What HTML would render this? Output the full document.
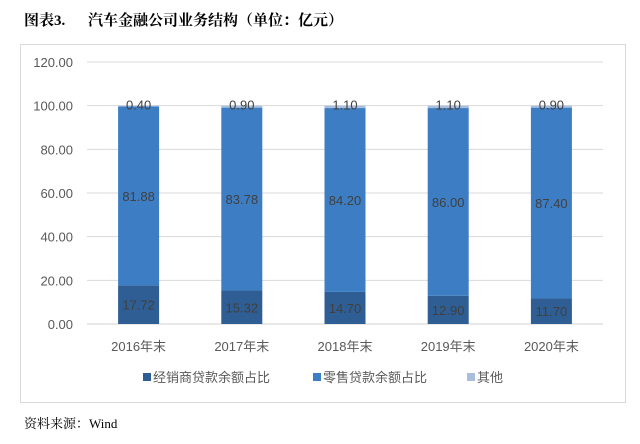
<!DOCTYPE html>
<html><head><meta charset="utf-8">
<style>
body{margin:0;background:#fff;width:640px;height:439px;overflow:hidden;font-family:"Liberation Sans","Noto Sans CJK SC",sans-serif;}
</style></head>
<body>
<svg width="640" height="439" xmlns="http://www.w3.org/2000/svg">
<text x="24" y="25" font-size="15" font-weight="bold" fill="#000" font-family="Liberation Serif,Noto Serif CJK SC,serif">图表3.</text>
<text x="88" y="25" font-size="15" font-weight="bold" fill="#000" font-family="Noto Serif CJK SC,serif">汽车金融公司业务结构（单位：亿元）</text>
<rect x="20.5" y="44.5" width="605" height="358" fill="#fff" stroke="#d9d9d9"/>
<g id="grid"></g><g id="bars"></g><g id="labels"></g>
<g font-size="13" fill="#595959">
<rect x="143" y="373" width="8" height="8" fill="#2e5e93"/>
<text x="153" y="382">经销商贷款余额占比</text>
<rect x="313" y="373" width="8" height="8" fill="#3d7dc3"/>
<text x="323" y="382">零售贷款余额占比</text>
<rect x="467" y="373" width="8" height="8" fill="#a8bedc"/>
<text x="477" y="382">其他</text>
</g>
<text x="24" y="428" font-size="13" fill="#000" font-family="Liberation Serif,Noto Serif CJK SC,serif">资料来源：Wind</text>
</svg>
<script>
const categories=["2016年末","2017年末","2018年末","2019年末","2020年末"];
const dealer=[17.72,15.32,14.70,12.90,11.70];
const retail=[81.88,83.78,84.20,86.00,87.40];
const other=[0.40,0.90,1.10,1.10,0.90];
const ticks=[0,20,40,60,80,100,120];
const NS="http://www.w3.org/2000/svg";
const x0=87,x1=603,yb=324,yt=62;
const y=v=>yb-(v/120)*(yb-yt);
const bw=(x1-x0)/categories.length;
const xc=i=>x0+bw*(i+0.5);
function mk(t,a,p){const e=document.createElementNS(NS,t);for(const k in a)e.setAttribute(k,a[k]);p.appendChild(e);return e;}
const g=document.getElementById('grid'),b=document.getElementById('bars'),l=document.getElementById('labels');
ticks.forEach(t=>{
 const ln=mk('line',{x1:x0,x2:x1,y1:y(t),y2:y(t),stroke:t===0?'#d0d0d0':'#d9d9d9','stroke-width':1},g);
 
 
 const tx=mk('text',{x:73,y:y(t)+5,'text-anchor':'end','font-size':13,fill:'#595959'},g);
 tx.textContent=t.toFixed(2);
 
 
});
const series=[[dealer,'#2e5e93','dealer'],[retail,'#3d7dc3','retail'],[other,'#a8bedc','other']];
categories.forEach((c,i)=>{
 let base=0;
 series.forEach(([arr,col,nm])=>{
  const v=arr[i];
  const r=mk('rect',{x:xc(i)-20.5,y:y(base+v),width:41,height:y(base)-y(base+v),fill:col},b);
  
  
  const ly=nm==='other'?y(base+v)+4:(y(base)+y(base+v))/2+5;
  const t=mk('text',{x:xc(i),y:ly,'text-anchor':'middle','font-size':13,fill:'#404040'},l);
  t.textContent=v.toFixed(2);
  
  
  base+=v;
 });
 const xl=mk('text',{x:xc(i),y:351,'text-anchor':'middle','font-size':13,fill:'#595959'},l);
 xl.textContent=c;
 
 
});
</script>
</body></html>
